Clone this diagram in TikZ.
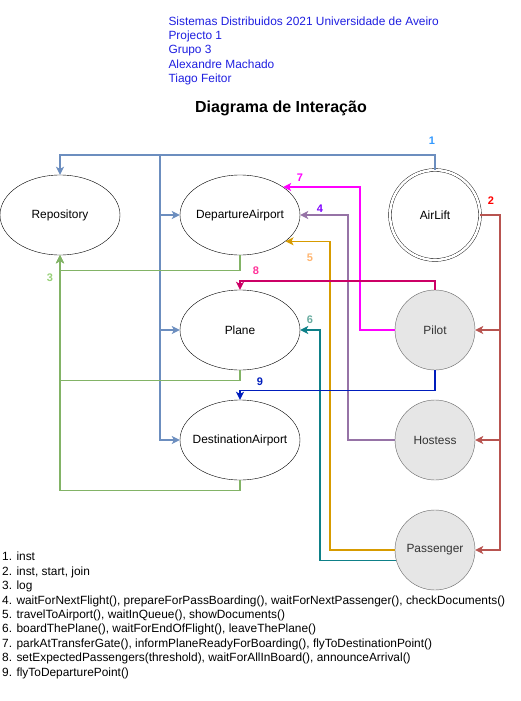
\documentclass[tikz,border=0pt]{standalone}
\usepackage{fontspec}
\setmainfont{Liberation Sans}
\usepackage{tikz}
\usetikzlibrary{shapes.geometric, arrows.meta}

\definecolor{bluelink}{HTML}{6C8EBF}
\definecolor{redlink}{HTML}{B85450}
\definecolor{greenlink}{HTML}{82B366}
\definecolor{purplelink}{HTML}{9673A6}
\definecolor{orangelink}{HTML}{D79B00}
\definecolor{teallink}{HTML}{0E8088}
\definecolor{magentalink}{HTML}{FF00FF}
\definecolor{pinklink}{HTML}{CC0066}
\definecolor{navylink}{HTML}{001DBC}
\definecolor{headblue}{HTML}{1F1FE0}
\definecolor{actorfill}{HTML}{E6E6E6}
\definecolor{actorline}{HTML}{666666}

\begin{document}
\begin{tikzpicture}[x=1pt, y=-1pt, font=\fontsize{11.9}{14.4}\selectfont,
  region/.style={ellipse, draw, thin, minimum width=120pt, minimum height=80pt, inner sep=0pt, label=center:#1},
  actor/.style={circle, draw=actorline, thin, fill=actorfill, text=black!80, minimum size=80pt, inner sep=0pt},
  link/.style={line width=1.4pt, -{Stealth[inset=2pt, length=8pt, width=8pt]}},
  num/.style={font=\fontsize{11}{12}\selectfont\bfseries}]
  \useasboundingbox (0,0) rectangle (521,701);

  % header
  \node[anchor=north west, align=left, text=headblue] (head) at (165,13)
    {Sistemas Distribuidos 2021 Universidade de Aveiro\\ Projecto 1\\ Grupo 3\\ Alexandre Machado\\ Tiago Feitor};
  \node[font=\fontsize{16}{18}\selectfont\bfseries] (title) at (281,108) {Diagrama de Interação};

  % shared regions
  \node[region=Repository] (repo) at (60,215) {};
  \node[region=DepartureAirport] (dep) at (240,215) {};
  \node[region=Plane] (plane) at (240,330) {};
  \node[region=DestinationAirport] (dest) at (240,440) {};

  % entities
  \node[circle, draw, thin, minimum size=90pt, inner sep=0pt, double, double distance=2.5pt] (lift) at (435,215) {AirLift};
  \node[actor] (pilot) at (435,330) {Pilot};
  \node[actor] (hostess) at (435,440) {Hostess};
  \node[actor] (pass) at (435,550) {Passenger};

  % bend points
  \coordinate (bus1) at (160,155);
  \coordinate (bus2) at (500,215);
  \coordinate (bend4) at (348,215);
  \coordinate (bend5) at (330,0);
  \coordinate (bend6) at (320,330);
  \coordinate (bend7) at (360,0);

  % 1: inst
  \draw[link, bluelink] (lift.north) |- (bus1) -| (repo.north);
  \foreach \t in {dep, plane, dest}
    { \draw[link, bluelink] (bus1) |- (\t.west); }
  \node[num, text={rgb,255:red,51;green,153;blue,255}] (n1) at (432,141) {1};

  % 2: inst, start, join
  \foreach \t in {pilot, hostess, pass}
    { \draw[link, redlink] (lift.east) -- (bus2) |- (\t.east); }
  \node[num, text=red] (n2) at (491,201) {2};

  % 3: log
  \foreach \s/\d in {dep/15, plane/10, dest/10}
    { \draw[link, greenlink] (\s.south) -- ++(0,\d) -| (repo.south); }
  \node[num, text={rgb,255:red,151;green,208;blue,119}] (n3) at (50,278) {3};

  % 4 .. 7: calls into departure airport and plane
  \draw[link, purplelink] (hostess.west) -| (bend4) -- (dep.east);
  \node[num, text={rgb,255:red,127;green,0;blue,255}] (n4) at (320,209) {4};
  \draw[link, orangelink] (pass.west) -| (dep.-30 -| bend5) -- (dep.-30);
  \node[num, text={rgb,255:red,255;green,181;blue,112}] (n5) at (310,258) {5};
  \draw[link, teallink] (pass.195) -| (bend6) -- (plane.east);
  \node[num, text={rgb,255:red,103;green,171;blue,159}] (n6) at (310,320) {6};
  \draw[link, magentalink] (pilot.west) -| (dep.33 -| bend7) -- (dep.33);
  \node[num, text=magentalink] (n7) at (300,178) {7};

  % 8, 9: pilot moves the plane
  \draw[link, pinklink] (pilot.north) -- ++(0,-9) -| (plane.north);
  \node[num, text={rgb,255:red,255;green,51;blue,153}] (n8) at (256,271) {8};
  \draw[link, navylink] (pilot.south) -- ++(0,20) -| (dest.north);
  \node[num, text=navylink] (n9) at (260,382) {9};

  % legend
  \node[anchor=north west, align=left, inner sep=0pt] (legend) at (2,552)
    {1. inst\\ 2. inst, start, join\\ 3. log\\
     4. waitForNextFlight(), prepareForPassBoarding(), waitForNextPassenger(), checkDocuments()\\
     5. travelToAirport(), waitInQueue(), showDocuments()\\
     6. boardThePlane(), waitForEndOfFlight(), leaveThePlane()\\
     7. parkAtTransferGate(), informPlaneReadyForBoarding(), flyToDestinationPoint()\\
     8. setExpectedPassengers(threshold), waitForAllInBoard(), announceArrival()\\
     9. flyToDeparturePoint()};
\end{tikzpicture}
\end{document}
